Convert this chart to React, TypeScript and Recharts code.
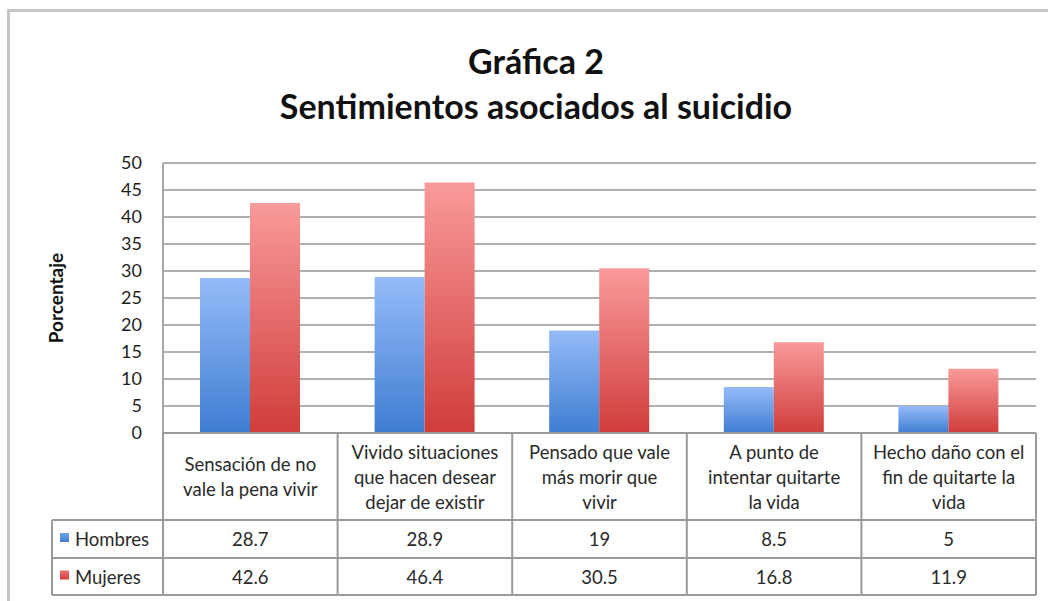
import { BarChart, Bar, XAxis, YAxis, CartesianGrid } from "recharts";

const categories = [
  "Sensación de no\nvale la pena vivir",
  "Vivido situaciones\nque hacen desear\ndejar de existir",
  "Pensado que vale\nmás morir que\nvivir",
  "A punto de\nintentar quitarte\nla vida",
  "Hecho daño con el\nfin de quitarte la\nvida",
];
const hombres = [28.7, 28.9, 19, 8.5, 5];
const mujeres = [42.6, 46.4, 30.5, 16.8, 11.9];
const yTicks = [0, 5, 10, 15, 20, 25, 30, 35, 40, 45, 50];
const seriesNames = ["Hombres", "Mujeres"];

const data = categories.map((name, i) => ({
  name,
  hombres: hombres[i],
  mujeres: mujeres[i],
}));

const W = 1048;
const H = 601;
const PLOT_LEFT = 163;
const PLOT_RIGHT = 1036;
const PLOT_TOP = 163;
const PLOT_BOTTOM = 433;
const BAND = (PLOT_RIGHT - PLOT_LEFT) / categories.length;
const ROW1 = 520;
const ROW2 = 558;
const ROW3 = 595;
const LEG_LEFT = 52;
const LINE = "#9a9a9a";
const FONT = "Lato, 'Open Sans', sans-serif";
const TXT = "#2a2a2a";

const TableTick = ({ x, y, payload, index }: any) => {
  const left = x - BAND / 2;
  const right = x + BAND / 2;
  const lines = String(payload.value).split("\n");
  const mid = (y + ROW1) / 2;
  const lh = 25;
  const start = mid - ((lines.length - 1) * lh) / 2;
  return (
    <g fontFamily={FONT} fontSize={18.5} fill={TXT}>
      <line x1={left} x2={left} y1={y} y2={ROW3} stroke={LINE} strokeWidth={2} />
      {index === categories.length - 1 && (
        <line x1={right} x2={right} y1={y} y2={ROW3} stroke={LINE} strokeWidth={2} />
      )}
      {[ROW1, ROW2, ROW3].map((ry) => (
        <line key={ry} x1={left} x2={right} y1={ry} y2={ry} stroke={LINE} strokeWidth={2} />
      ))}
      {lines.map((l, i) => (
        <text key={i} x={x} y={start + i * lh} textAnchor="middle" dominantBaseline="central">
          {l}
        </text>
      ))}
      <text x={x} y={(ROW1 + ROW2) / 2} textAnchor="middle" dominantBaseline="central">
        {hombres[index]}
      </text>
      <text x={x} y={(ROW2 + ROW3) / 2} textAnchor="middle" dominantBaseline="central">
        {mujeres[index]}
      </text>
      {index === 0 && (
        <g>
          {[ROW1, ROW2, ROW3].map((ry) => (
            <line key={ry} x1={LEG_LEFT} x2={left} y1={ry} y2={ry} stroke={LINE} strokeWidth={2} />
          ))}
          <line x1={LEG_LEFT} x2={LEG_LEFT} y1={ROW1} y2={ROW3} stroke={LINE} strokeWidth={2} />
          <rect x={60} y={(ROW1 + ROW2) / 2 - 6} width={9} height={9} fill="url(#legBlue)" />
          <text x={75} y={(ROW1 + ROW2) / 2} dominantBaseline="central">{seriesNames[0]}</text>
          <rect x={60} y={(ROW2 + ROW3) / 2 - 6} width={9} height={9} fill="url(#legRed)" />
          <text x={75} y={(ROW2 + ROW3) / 2} dominantBaseline="central">{seriesNames[1]}</text>
        </g>
      )}
    </g>
  );
};

const YLabel = ({ viewBox }: any) => {
  const cy = viewBox ? viewBox.y + viewBox.height / 2 : 298;
  return (
    <text
      x={55}
      y={cy}
      transform={`rotate(-90 55 ${cy})`}
      textAnchor="middle"
      dominantBaseline="central"
      fontFamily={FONT}
      fontWeight={700}
      fontSize={19}
      fill="#111"
    >
      Porcentaje
    </text>
  );
};

export default function App() {
  return (
    <div
      style={{
        position: "absolute",
        left: 0,
        top: 0,
        width: W,
        height: H,
        overflow: "hidden",
        background: "#fff",
      }}
    >
      <div
        style={{
          position: "absolute",
          left: 7,
          top: 9,
          width: 1200,
          height: 800,
          borderTop: "3px solid #c6c6c6",
          borderLeft: "3px solid #c6c6c6",
        }}
      />
      <div
        style={{
          position: "absolute",
          left: 0,
          width: 1072,
          top: 38,
          textAlign: "center",
          fontFamily: FONT,
          fontWeight: 700,
          fontSize: 34,
          lineHeight: "45px",
          color: "#111",
        }}
      >
        <div>Gráfica 2</div>
        <div>Sentimientos asociados al suicidio</div>
      </div>
      <div style={{ position: "absolute", left: 0, top: 0 }}>
        <BarChart
          width={W}
          height={H}
          data={data}
          margin={{ top: PLOT_TOP, right: W - PLOT_RIGHT, bottom: 0, left: 0 }}
          barGap={0}
          barSize={50}
        >
          <defs>
            <linearGradient id="gBlue" x1="0" y1="0" x2="0" y2="1">
              <stop offset="0%" stopColor="#95bbf8" />
              <stop offset="100%" stopColor="#3f7dd2" />
            </linearGradient>
            <linearGradient id="gRed" x1="0" y1="0" x2="0" y2="1">
              <stop offset="0%" stopColor="#f99a9a" />
              <stop offset="100%" stopColor="#d03d3b" />
            </linearGradient>
            <linearGradient id="legBlue" x1="0" y1="0" x2="0" y2="1">
              <stop offset="0%" stopColor="#6fa0ea" />
              <stop offset="100%" stopColor="#3f7dd2" />
            </linearGradient>
            <linearGradient id="legRed" x1="0" y1="0" x2="0" y2="1">
              <stop offset="0%" stopColor="#ee7070" />
              <stop offset="100%" stopColor="#d03d3b" />
            </linearGradient>
          </defs>
          <CartesianGrid vertical={false} stroke="#b0b0b0" strokeWidth={2} />
          <XAxis
            dataKey="name"
            interval={0}
            height={H - PLOT_BOTTOM}
            tickSize={0}
            tickMargin={0}
            tickLine={false}
            axisLine={{ stroke: LINE, strokeWidth: 2 }}
            tick={<TableTick />}
          />
          <YAxis
            width={PLOT_LEFT}
            domain={[0, 50]}
            ticks={yTicks}
            interval={0}
            tickSize={0}
            tickMargin={21}
            tickLine={false}
            axisLine={{ stroke: "#a8a8a8", strokeWidth: 2 }}
            tick={{ fontFamily: FONT, fontSize: 18, fill: "#1e1e1e" }}
            label={<YLabel />}
          />
          <Bar dataKey="hombres" name={seriesNames[0]} fill="url(#gBlue)" isAnimationActive={false} />
          <Bar dataKey="mujeres" name={seriesNames[1]} fill="url(#gRed)" isAnimationActive={false} />
        </BarChart>
      </div>
    </div>
  );
}
